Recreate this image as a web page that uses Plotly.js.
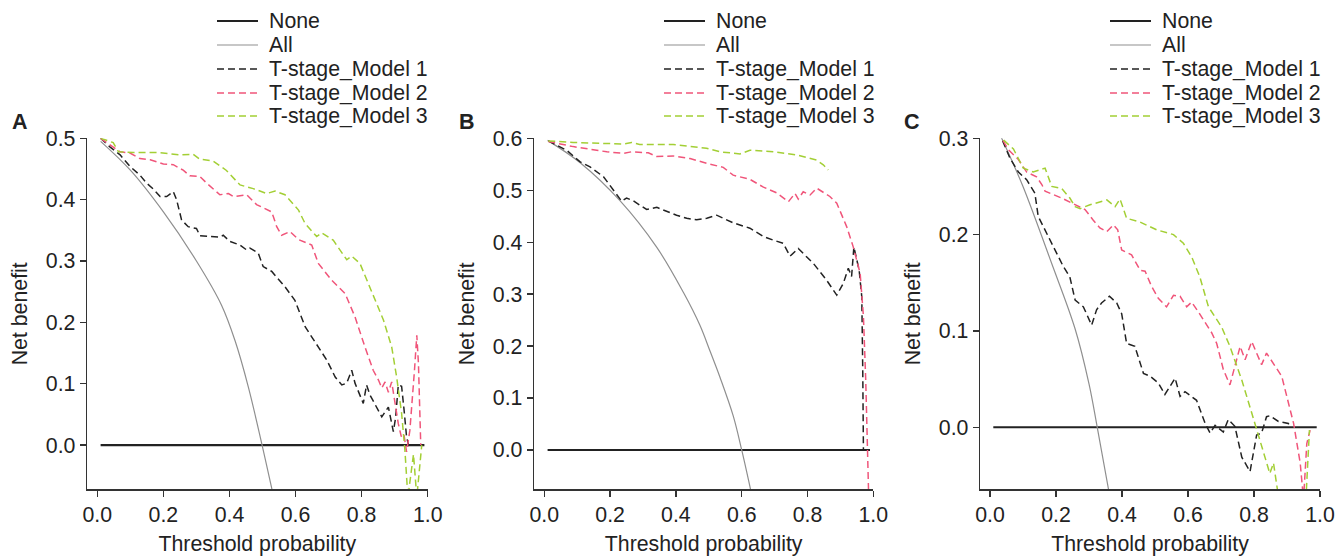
<!DOCTYPE html>
<html><head><meta charset="utf-8">
<script src="https://cdn.plot.ly/plotly-3.0.1.min.js"></script>
<style>html,body{margin:0;padding:0;background:#fff}#chart{width:1336px;height:558px}</style>
</head><body><div id="chart"></div>
<script>
// ---------------- data ----------------
const seriesNames = ['None', 'All', 'T-stage_Model 1', 'T-stage_Model 2', 'T-stage_Model 3'];
const panelLabels = ['A', 'B', 'C'];
const xTickVals = [0, 0.2, 0.4, 0.6, 0.8, 1.0];
const yTickValsA = [0, 0.1, 0.2, 0.3, 0.4, 0.5];
const yTickValsB = [0, 0.1, 0.2, 0.3, 0.4, 0.5, 0.6];
const yTickValsC = [0, 0.1, 0.2, 0.3];

const noneX = [0.01, 0.99];
const noneY = [0, 0];

// Panel A
const aAllX = [0.01, 0.1, 0.2, 0.3, 0.376, 0.417, 0.457, 0.4975, 0.54];
const aAllY = [0.495, 0.448, 0.38, 0.3, 0.228, 0.17, 0.095, 0.003, -0.1];
const aM1X = [0.01, 0.038, 0.069, 0.099, 0.129, 0.149, 0.17, 0.19, 0.21, 0.23, 0.24, 0.255, 0.275, 0.3, 0.311, 0.331, 0.371, 0.381, 0.401, 0.432, 0.452, 0.462, 0.487, 0.502, 0.528, 0.568, 0.598, 0.629, 0.669, 0.694, 0.72, 0.74, 0.755, 0.77, 0.78, 0.805, 0.815, 0.825, 0.861, 0.881, 0.896, 0.903, 0.911, 0.921, 0.928, 0.936, 0.944];
const aM1Y = [0.5, 0.486, 0.473, 0.454, 0.44, 0.427, 0.417, 0.405, 0.405, 0.413, 0.4, 0.367, 0.356, 0.353, 0.341, 0.34, 0.339, 0.342, 0.332, 0.326, 0.318, 0.321, 0.313, 0.291, 0.283, 0.258, 0.236, 0.193, 0.16, 0.139, 0.111, 0.098, 0.101, 0.122, 0.101, 0.068, 0.098, 0.082, 0.046, 0.062, 0.022, 0.045, 0.098, 0.096, 0.06, 0.014, -0.005];
const aM2X = [0.01, 0.038, 0.069, 0.099, 0.129, 0.16, 0.2, 0.23, 0.26, 0.28, 0.31, 0.331, 0.371, 0.397, 0.412, 0.452, 0.482, 0.528, 0.543, 0.558, 0.583, 0.609, 0.649, 0.669, 0.709, 0.75, 0.78, 0.81, 0.835, 0.851, 0.861, 0.871, 0.881, 0.891, 0.901, 0.911, 0.92, 0.928, 0.936, 0.946, 0.96, 0.967, 0.972, 0.979];
const aM2Y = [0.5, 0.489, 0.478, 0.476, 0.467, 0.465, 0.458, 0.457, 0.448, 0.439, 0.438, 0.427, 0.408, 0.41, 0.405, 0.408, 0.392, 0.38, 0.356, 0.342, 0.348, 0.335, 0.326, 0.296, 0.269, 0.247, 0.209, 0.16, 0.122, 0.106, 0.093, 0.103, 0.086, 0.103, 0.07, 0.035, 0.014, 0.018, -0.011, 0.024, 0.122, 0.179, 0.133, 0.0];
const aM3X = [0.01, 0.048, 0.064, 0.109, 0.18, 0.25, 0.29, 0.31, 0.35, 0.39, 0.432, 0.472, 0.513, 0.538, 0.568, 0.609, 0.629, 0.664, 0.679, 0.714, 0.755, 0.77, 0.795, 0.825, 0.866, 0.891, 0.906, 0.921, 0.931, 0.94, 0.957, 0.967, 0.982];
const aM3Y = [0.5, 0.493, 0.478, 0.477, 0.477, 0.473, 0.474, 0.466, 0.463, 0.448, 0.424, 0.418, 0.41, 0.414, 0.408, 0.383, 0.361, 0.34, 0.346, 0.334, 0.302, 0.308, 0.296, 0.258, 0.204, 0.16, 0.111, 0.052, -0.008, -0.085, -0.015, -0.085, 0.0];

// Panel B
const bAllX = [0.01, 0.109, 0.23, 0.342, 0.423, 0.473, 0.504, 0.534, 0.574, 0.6, 0.63];
const bAllY = [0.596, 0.553, 0.48, 0.39, 0.303, 0.24, 0.19, 0.14, 0.066, 0.0, -0.085];
const bM1X = [0.012, 0.068, 0.108, 0.139, 0.18, 0.21, 0.235, 0.25, 0.27, 0.291, 0.311, 0.342, 0.372, 0.402, 0.433, 0.463, 0.494, 0.514, 0.524, 0.544, 0.575, 0.625, 0.666, 0.696, 0.726, 0.747, 0.772, 0.797, 0.818, 0.858, 0.889, 0.909, 0.924, 0.934, 0.941, 0.957, 0.965, 0.968, 0.97];
const bM1Y = [0.595, 0.577, 0.555, 0.545, 0.526, 0.5, 0.479, 0.485, 0.48, 0.471, 0.463, 0.467, 0.459, 0.452, 0.446, 0.443, 0.446, 0.45, 0.452, 0.446, 0.437, 0.427, 0.411, 0.404, 0.398, 0.373, 0.388, 0.372, 0.359, 0.327, 0.298, 0.321, 0.35, 0.334, 0.391, 0.346, 0.295, 0.15, 0.0];
const bM2X = [0.012, 0.088, 0.139, 0.19, 0.24, 0.265, 0.316, 0.341, 0.392, 0.443, 0.493, 0.544, 0.574, 0.625, 0.666, 0.706, 0.742, 0.762, 0.772, 0.787, 0.808, 0.828, 0.868, 0.889, 0.919, 0.939, 0.96, 0.97, 0.977, 0.982, 0.986];
const bM2Y = [0.594, 0.584, 0.579, 0.574, 0.571, 0.574, 0.572, 0.565, 0.566, 0.561, 0.552, 0.544, 0.529, 0.521, 0.506, 0.495, 0.478, 0.494, 0.483, 0.497, 0.491, 0.504, 0.488, 0.475, 0.43, 0.391, 0.34, 0.257, 0.135, -0.026, -0.09];
const bM3X = [0.012, 0.088, 0.19, 0.24, 0.265, 0.29, 0.392, 0.453, 0.493, 0.534, 0.595, 0.625, 0.642, 0.696, 0.767, 0.828, 0.848, 0.863];
const bM3Y = [0.595, 0.592, 0.59, 0.589, 0.592, 0.588, 0.588, 0.584, 0.581, 0.574, 0.57, 0.577, 0.576, 0.574, 0.568, 0.558, 0.549, 0.539];

// Panel C
const cAllX = [0.01, 0.045, 0.1, 0.187, 0.258, 0.3, 0.325, 0.37];
const cAllY = [0.318, 0.293, 0.25, 0.17, 0.102, 0.045, 0.0, -0.085];
const cM1X = [0.01, 0.035, 0.061, 0.086, 0.111, 0.136, 0.146, 0.167, 0.192, 0.222, 0.242, 0.258, 0.283, 0.308, 0.323, 0.338, 0.362, 0.384, 0.399, 0.414, 0.439, 0.465, 0.485, 0.51, 0.53, 0.561, 0.576, 0.591, 0.626, 0.652, 0.667, 0.682, 0.707, 0.722, 0.742, 0.763, 0.788, 0.808, 0.823, 0.838, 0.848, 0.874, 0.904, 0.909];
const cM1Y = [0.318, 0.3, 0.279, 0.265, 0.257, 0.243, 0.219, 0.205, 0.188, 0.167, 0.156, 0.132, 0.125, 0.106, 0.122, 0.129, 0.136, 0.129, 0.118, 0.087, 0.084, 0.056, 0.053, 0.046, 0.034, 0.051, 0.032, 0.037, 0.028, 0.004, -0.006, 0.002, -0.005, 0.008, 0.001, -0.031, -0.046, -0.008, -0.006, 0.011, 0.012, 0.006, 0.004, 0.0];
const cM2X = [0.01, 0.035, 0.056, 0.086, 0.111, 0.141, 0.157, 0.167, 0.217, 0.258, 0.288, 0.313, 0.333, 0.354, 0.374, 0.387, 0.399, 0.429, 0.455, 0.47, 0.49, 0.51, 0.535, 0.556, 0.576, 0.596, 0.611, 0.631, 0.672, 0.687, 0.707, 0.727, 0.758, 0.773, 0.793, 0.823, 0.838, 0.884, 0.914, 0.92, 0.94, 0.95, 0.96, 0.97];
const cM2Y = [0.318, 0.3, 0.288, 0.278, 0.265, 0.26, 0.252, 0.245, 0.238, 0.231, 0.226, 0.215, 0.207, 0.203, 0.21, 0.205, 0.184, 0.179, 0.163, 0.162, 0.146, 0.134, 0.125, 0.137, 0.136, 0.125, 0.13, 0.12, 0.098, 0.087, 0.06, 0.044, 0.084, 0.07, 0.089, 0.065, 0.077, 0.053, 0.011, 0.004, -0.037, -0.075, -0.017, -0.003];
const cM3X = [0.01, 0.035, 0.071, 0.101, 0.131, 0.167, 0.187, 0.217, 0.242, 0.258, 0.273, 0.303, 0.354, 0.379, 0.394, 0.414, 0.455, 0.505, 0.556, 0.586, 0.611, 0.636, 0.662, 0.702, 0.727, 0.763, 0.793, 0.818, 0.848, 0.859, 0.882, 0.955, 0.968];
const cM3Y = [0.318, 0.3, 0.289, 0.269, 0.265, 0.269, 0.25, 0.248, 0.238, 0.229, 0.227, 0.231, 0.236, 0.229, 0.237, 0.217, 0.213, 0.205, 0.2, 0.191, 0.177, 0.156, 0.125, 0.104, 0.084, 0.049, 0.015, -0.013, -0.048, -0.037, -0.09, -0.09, -0.003];

// ---------------- styling ----------------
const FONT = 'Liberation Sans, Arial, Helvetica, sans-serif';
const FS = 21.3;
const colNone = '#222222', colAll = '#8f8f8f', colM1 = '#222222', colM2 = '#f0557a', colM3 = '#a3cf35';
const DASH = '7px,4px';
const W = 1336, H = 558;
const px = v => v / W, py = v => 1 - v / H;

const panels = [
  {all: [aAllX, aAllY], m: [[aM1X, aM1Y], [aM2X, aM2Y], [aM3X, aM3Y]], yt: yTickValsA,
   xd: [87, 427.7], xr: [-0.0312, 1.0], yr: [-0.072, 0.5], label: 10, leg: 87},
  {all: [bAllX, bAllY], m: [[bM1X, bM1Y], [bM2X, bM2Y], [bM3X, bM3Y]], yt: yTickValsB,
   xd: [534, 873.3], xr: [-0.0313, 1.0], yr: [-0.0757, 0.6], label: 457, leg: 534},
  {all: [cAllX, cAllY], m: [[cM1X, cM1Y], [cM2X, cM2Y], [cM3X, cM3Y]], yt: yTickValsC,
   xd: [980, 1320], xr: [-0.0303, 1.0], yr: [-0.0644, 0.3], label: 902, leg: 980}
];
const yDom = [py(489.3), py(138.3)];
const modelCols = [colM1, colM2, colM3];
const legendStyles = [
  {color: colNone, width: 2.2, dash: 'solid'},
  {color: colAll, width: 1.2, dash: 'solid'},
  {color: colM1, width: 1.5, dash: DASH},
  {color: colM2, width: 1.5, dash: DASH},
  {color: colM3, width: 1.5, dash: DASH}
];
const legendRows = [21, 45, 69, 93, 116];

const traces = [];
const layout = {
  width: W, height: H, margin: {l: 0, r: 0, t: 0, b: 0},
  paper_bgcolor: '#fff', plot_bgcolor: '#fff', showlegend: false,
  font: {family: FONT, size: FS, color: '#222'},
  shapes: [], annotations: []
};

panels.forEach((p, i) => {
  const k = i === 0 ? '' : String(i + 1);
  const xa = 'x' + k, ya = 'y' + k;
  traces.push({x: noneX, y: noneY, xaxis: xa, yaxis: ya, mode: 'lines', name: seriesNames[0],
    line: {color: colNone, width: 2.2}, hoverinfo: 'skip'});
  traces.push({x: p.all[0], y: p.all[1], xaxis: xa, yaxis: ya, mode: 'lines', name: seriesNames[1],
    line: {color: colAll, width: 1.2, shape: 'spline', smoothing: 1}, hoverinfo: 'skip'});
  p.m.forEach((s, j) => traces.push({x: s[0], y: s[1], xaxis: xa, yaxis: ya, mode: 'lines',
    name: seriesNames[j + 2], line: {color: modelCols[j], width: 1.5, dash: DASH}, hoverinfo: 'skip'}));

  const axCommon = {showgrid: false, zeroline: false, showline: true, linecolor: '#333', linewidth: 1.3,
    ticks: 'outside', ticklen: 6, tickwidth: 1.3, tickcolor: '#333', tickformat: '.1f',
    tickfont: {size: FS, color: '#222', family: FONT}, automargin: false, fixedrange: true};
  layout['xaxis' + k] = Object.assign({}, axCommon, {
    domain: [px(p.xd[0]), px(p.xd[1])], range: p.xr, anchor: ya, tickvals: xTickVals,
    title: {text: 'Threshold probability', font: {size: FS, color: '#222'}, standoff: 10}
  });
  layout['yaxis' + k] = Object.assign({}, axCommon, {
    domain: yDom, range: p.yr, anchor: xa, tickvals: p.yt,
    title: {text: 'Net benefit', font: {size: FS, color: '#222'}, standoff: 12}
  });
  // panel label
  layout.annotations.push({xref: 'paper', yref: 'paper', x: px(p.label), y: py(108), xanchor: 'left', yanchor: 'top',
    text: '<b>' + panelLabels[i] + '</b>', showarrow: false, font: {size: 21.5, color: '#222', family: FONT}});
  // legend (drawn per panel)
  seriesNames.forEach((nm, r) => {
    const st = legendStyles[r];
    layout.shapes.push({type: 'line', xref: 'paper', yref: 'paper',
      x0: px(p.leg + 130), x1: px(p.leg + 171), y0: py(legendRows[r]), y1: py(legendRows[r]),
      line: {color: st.color, width: st.width, dash: st.dash}});
    layout.annotations.push({xref: 'paper', yref: 'paper', x: px(p.leg + 180), y: py(legendRows[r]),
      xanchor: 'left', yanchor: 'middle', text: nm, showarrow: false,
      font: {size: FS, color: '#222', family: FONT}});
  });
});

Plotly.newPlot('chart', traces, layout, {staticPlot: true, displayModeBar: false});
</script>
</body></html>
